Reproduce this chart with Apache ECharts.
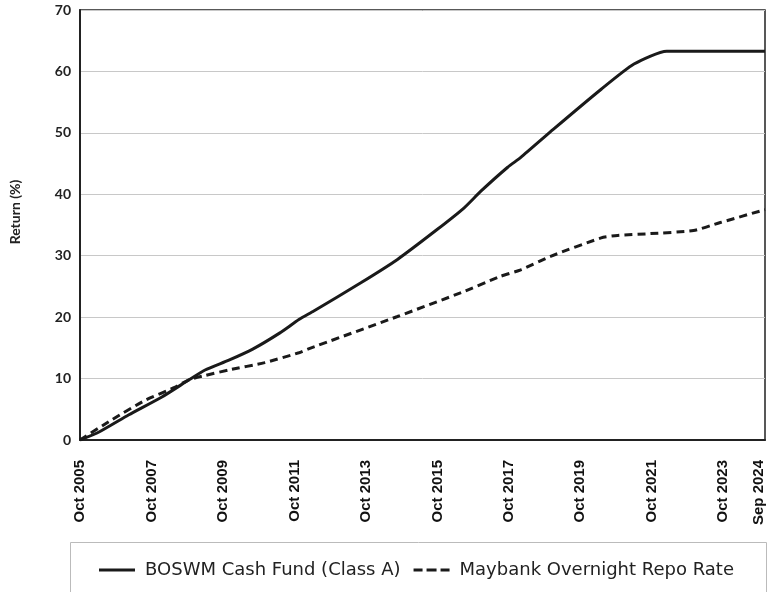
<!DOCTYPE html>
<html>
<head>
<meta charset="utf-8">
<script src="https://cdn.jsdelivr.net/npm/echarts@6/dist/echarts.min.js"></script>
<style>html,body{margin:0;padding:0;background:#fff}#c{width:771px;height:592px}</style>
</head>
<body>
<div id="c"></div>
<script>
// Months elapsed since Oct 2005
const fundMonths = [0, 6.4, 16.4, 27.5, 36.6, 42, 50, 58, 67, 73.5, 78.5, 94.3, 106.6, 120, 129, 134.6, 143.6, 148, 159, 175, 186, 197, 230];
const fundValues = [0, 1.3, 4.1, 7.0, 9.8, 11.4, 13.0, 14.8, 17.4, 19.6, 21.0, 25.6, 29.4, 34.3, 37.8, 40.5, 44.4, 46.0, 50.6, 57.1, 61.2, 63.3, 63.3];
const repoMonths = [0, 10.7, 22, 32, 36.6, 42, 50, 62, 73.5, 76.5, 106.6, 128, 141, 148, 158, 175, 180.5, 191.6, 206, 215, 230];
const repoValues = [0, 3.3, 6.5, 8.6, 9.8, 10.5, 11.4, 12.6, 14.2, 14.8, 20.1, 24.0, 26.6, 27.7, 29.9, 32.9, 33.3, 33.6, 34.1, 35.4, 37.5];
const tickMonths = [0, 24, 48, 72, 96, 120, 144, 168, 192, 216, 228];
const tickLabels = ['Oct 2005', 'Oct 2007', 'Oct 2009', 'Oct 2011', 'Oct 2013', 'Oct 2015', 'Oct 2017', 'Oct 2019', 'Oct 2021', 'Oct 2023', 'Sep 2024'];
const seriesNames = ['BOSWM Cash Fund (Class A)', 'Maybank Overnight Repo Rate'];

const chart = echarts.init(document.getElementById('c'), null, {renderer: 'canvas'});
const pair = (xs, ys) => xs.map((x, i) => [x, ys[i]]);
const solidIcon = 'path://M0,0h36v3h-36z';
const dashIcon = 'path://M0,0h9v3h-9z M13,0h10v3h-10z M27,0h9v3h-9z';
chart.setOption({
  animation: false,
  backgroundColor: '#fff',
  grid: {left: 79, right: 6, top: 10, bottom: 152, show: true, borderColor: '#222', borderWidth: 1.5},
  graphic: [{
    type: 'rect', left: 70, top: 542, z: -1,
    shape: {width: 696, height: 60},
    style: {fill: '#fff', stroke: '#bbb', lineWidth: 1}
  }],
  legend: {
    left: 94, top: 556, itemWidth: 36, itemHeight: 3, itemGap: 13,
    textStyle: {fontFamily: 'DejaVu Sans', fontSize: 18, color: '#222', padding: [0, 0, 0, 5]},
    data: [
      {name: seriesNames[0], icon: solidIcon, itemStyle: {color: '#1a1a1a'}},
      {name: seriesNames[1], icon: dashIcon, itemStyle: {color: '#1a1a1a'}}
    ]
  },
  xAxis: {
    type: 'value', min: 0, max: 230,
    axisLine: {lineStyle: {color: '#222', width: 2}},
    axisTick: {show: false},
    splitLine: {show: false},
    axisLabel: {
      customValues: tickMonths,
      rotate: 90, margin: 20,
      fontFamily: 'Liberation Sans', fontWeight: 'bold', fontSize: 15, color: '#111',
      formatter: v => { const i = tickMonths.indexOf(v); return i >= 0 ? tickLabels[i] : ''; }
    }
  },
  yAxis: {
    type: 'value', min: 0, max: 70, interval: 10,
    name: 'Return (%)', nameLocation: 'middle', nameGap: 58,
    nameTextStyle: {fontFamily: 'Lato', fontWeight: 'bold', fontSize: 14, color: '#222', padding: [0, 0, 0, 26]},
    axisLine: {show: true, lineStyle: {color: '#222', width: 2}},
    axisTick: {show: false},
    splitLine: {lineStyle: {color: '#c8c8c8', width: 1}},
    axisLabel: {margin: 9, fontFamily: 'Lato', fontWeight: 'bold', fontSize: 14, color: '#222'}
  },
  series: [
    {name: seriesNames[0], type: 'line', data: pair(fundMonths, fundValues), showSymbol: false, symbol: 'none', smooth: 0.2,
     lineStyle: {color: '#1a1a1a', width: 3}, itemStyle: {color: '#1a1a1a'}},
    {name: seriesNames[1], type: 'line', data: pair(repoMonths, repoValues), showSymbol: false, symbol: 'none', smooth: 0.2,
     lineStyle: {color: '#1a1a1a', width: 3, type: [8, 5]}, itemStyle: {color: '#1a1a1a'}}
  ]
});
</script>
</body>
</html>
